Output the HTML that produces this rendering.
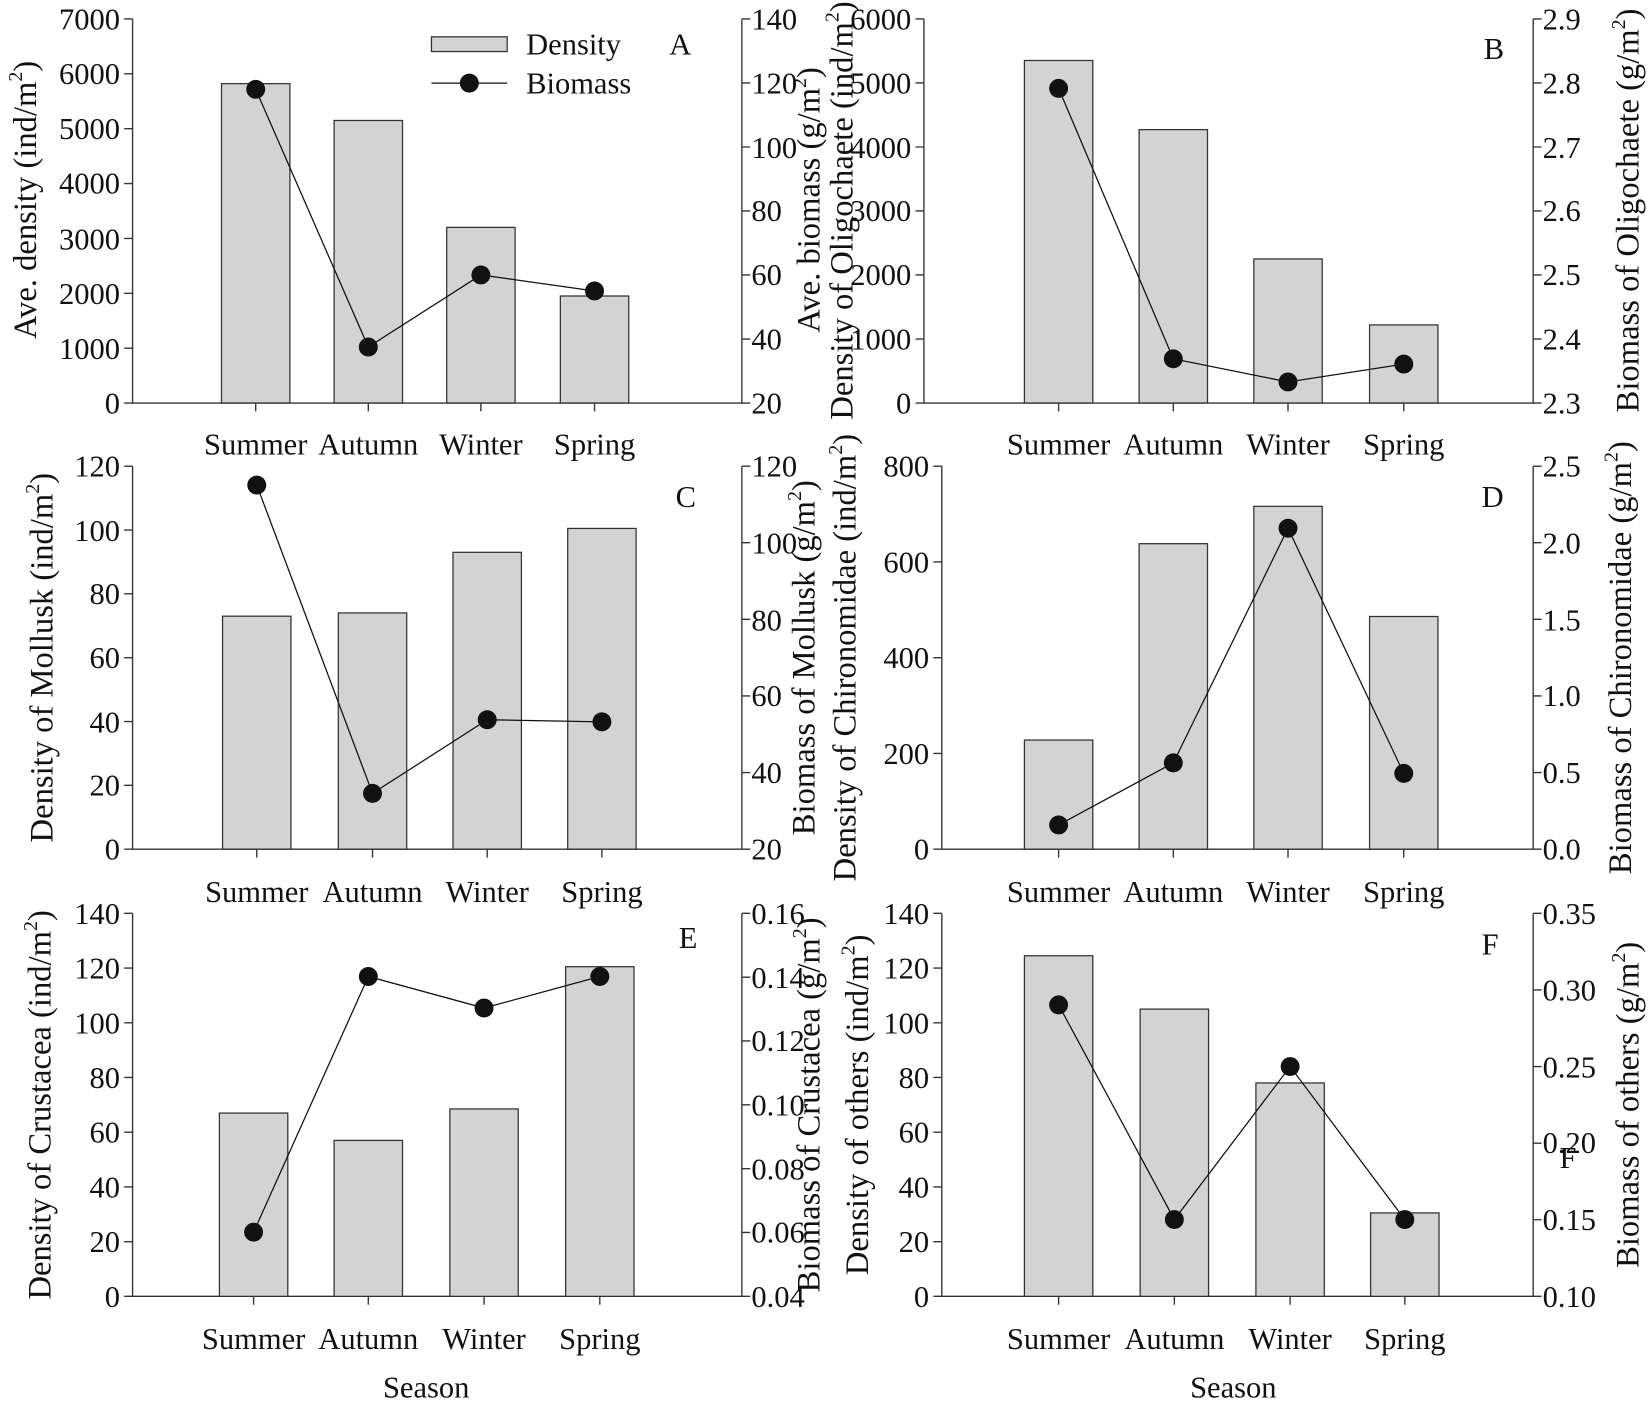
<!DOCTYPE html>
<html><head><meta charset="utf-8"><style>html,body{margin:0;padding:0;background:#fff}svg{display:block}text{font-family:"Liberation Serif",serif;fill:#111}</style></head><body>
<svg width="1650" height="1402" viewBox="0 0 1568 1332.4" preserveAspectRatio="none" xmlns="http://www.w3.org/2000/svg">
<g stroke="#333" stroke-width="1.3" fill="none">
<path d="M126 18V383H705V18M878 18V383H1457V18M126 443V807H705V443M895 443V807H1457V443M126 868V1232H705V868M895 868V1232H1457V868"/>
<path d="M118 383h8M118 330.9h8M118 278.7h8M118 226.6h8M118 174.4h8M118 122.3h8M118 70.1h8M118 18h8M705 383h8M705 322.2h8M705 261.3h8M705 200.5h8M705 139.7h8M705 78.8h8M705 18h8M243 383v8M350 383v8M457 383v8M565 383v8"/>
<path d="M870 383h8M870 322.2h8M870 261.3h8M870 200.5h8M870 139.7h8M870 78.8h8M870 18h8M1457 383h8M1457 322.2h8M1457 261.3h8M1457 200.5h8M1457 139.7h8M1457 78.8h8M1457 18h8M1006 383v8M1115 383v8M1224 383v8M1334 383v8"/>
<path d="M118 807h8M118 746.3h8M118 685.7h8M118 625h8M118 564.3h8M118 503.7h8M118 443h8M705 807h8M705 734.2h8M705 661.4h8M705 588.6h8M705 515.8h8M705 443h8M244 807v8M354 807v8M463 807v8M572 807v8"/>
<path d="M887 807h8M887 716h8M887 625h8M887 534h8M887 443h8M1457 807h8M1457 734.2h8M1457 661.4h8M1457 588.6h8M1457 515.8h8M1457 443h8M1006 807v8M1115 807v8M1224 807v8M1334 807v8"/>
<path d="M118 1232h8M118 1180h8M118 1128h8M118 1076h8M118 1024h8M118 972h8M118 920h8M118 868h8M705 1232h8M705 1171.3h8M705 1110.7h8M705 1050h8M705 989.3h8M705 928.7h8M705 868h8M241 1232v8M350 1232v8M460 1232v8M570 1232v8"/>
<path d="M887 1232h8M887 1180h8M887 1128h8M887 1076h8M887 1024h8M887 972h8M887 920h8M887 868h8M1457 1232h8M1457 1159.2h8M1457 1086.4h8M1457 1013.6h8M1457 940.8h8M1457 868h8M1006 1232v8M1116 1232v8M1226 1232v8M1335 1232v8"/>
</g>
<g fill="#d3d3d3" stroke="#333" stroke-width="1.2">
<rect x="210.5" y="79.5" width="65" height="303.5"/><rect x="317.5" y="114.5" width="65" height="268.5"/><rect x="424.5" y="216.1" width="65" height="166.9"/><rect x="532.5" y="281.3" width="65" height="101.7"/>
<rect x="973.5" y="57.5" width="65" height="325.5"/><rect x="1082.5" y="123.2" width="65" height="259.8"/><rect x="1191.5" y="246.1" width="65" height="136.9"/><rect x="1301.5" y="308.8" width="65" height="74.2"/>
<rect x="211.5" y="585.6" width="65" height="221.4"/><rect x="321.5" y="582.5" width="65" height="224.5"/><rect x="430.5" y="524.9" width="65" height="282.1"/><rect x="539.5" y="502.2" width="65" height="304.8"/>
<rect x="973.5" y="703.3" width="65" height="103.7"/><rect x="1082.5" y="516.7" width="65" height="290.3"/><rect x="1191.5" y="481.2" width="65" height="325.8"/><rect x="1301.5" y="585.9" width="65" height="221.1"/>
<rect x="208.5" y="1057.8" width="65" height="174.2"/><rect x="317.5" y="1083.8" width="65" height="148.2"/><rect x="427.5" y="1053.9" width="65" height="178.1"/><rect x="537.5" y="918.7" width="65" height="313.3"/>
<rect x="973.5" y="908.3" width="65" height="323.7"/><rect x="1083.5" y="959" width="65" height="273"/><rect x="1193.5" y="1029.2" width="65" height="202.8"/><rect x="1302.5" y="1152.7" width="65" height="79.3"/>
<rect x="410" y="35" width="72" height="14"/>
</g>
<g stroke="#111" stroke-width="1.2" fill="none">
<polyline points="243,84.9 350,329.8 457,261.3 565,276.5"/>
<polyline points="1006,84 1115,341 1224,363 1334,346"/>
<polyline points="244,461 354,754 463,684 572,686"/>
<polyline points="1006,784 1115,725 1224,502 1334,735"/>
<polyline points="241,1171 350,928 460,958 570,928"/>
<polyline points="1006,955 1116,1159 1226,1013.6 1335,1159"/>
<path d="M410 79H482"/>
</g>
<g fill="#111">
<circle cx="243" cy="84.9" r="9"/><circle cx="350" cy="329.8" r="9"/><circle cx="457" cy="261.3" r="9"/><circle cx="565" cy="276.5" r="9"/>
<circle cx="1006" cy="84" r="9"/><circle cx="1115" cy="341" r="9"/><circle cx="1224" cy="363" r="9"/><circle cx="1334" cy="346" r="9"/>
<circle cx="244" cy="461" r="9"/><circle cx="354" cy="754" r="9"/><circle cx="463" cy="684" r="9"/><circle cx="572" cy="686" r="9"/>
<circle cx="1006" cy="784" r="9"/><circle cx="1115" cy="725" r="9"/><circle cx="1224" cy="502" r="9"/><circle cx="1334" cy="735" r="9"/>
<circle cx="241" cy="1171" r="9"/><circle cx="350" cy="928" r="9"/><circle cx="460" cy="958" r="9"/><circle cx="570" cy="928" r="9"/>
<circle cx="1006" cy="955" r="9"/><circle cx="1116" cy="1159" r="9"/><circle cx="1226" cy="1013.6" r="9"/><circle cx="1335" cy="1159" r="9"/>
<circle cx="446" cy="79" r="9"/>
</g>
<g font-size="29">
<g text-anchor="end"><text x="114" y="393">0</text><text x="114" y="341">1000</text><text x="114" y="289">2000</text><text x="114" y="237">3000</text><text x="114" y="184">4000</text><text x="114" y="132">5000</text><text x="114" y="80">6000</text><text x="114" y="28">7000</text></g>
<g><text x="714" y="393">20</text><text x="714" y="332">40</text><text x="714" y="271">60</text><text x="714" y="210">80</text><text x="714" y="150">100</text><text x="714" y="89">120</text><text x="714" y="28">140</text></g>
<text x="500" y="52">Density</text><text x="500" y="89">Biomass</text><text x="636" y="52">A</text>
<g text-anchor="middle"><text x="243" y="432">Summer</text><text x="350" y="432">Autumn</text><text x="457" y="432">Winter</text><text x="565" y="432">Spring</text></g>
<g font-size="31">
<text transform="translate(34,190) rotate(-90)" text-anchor="middle">Ave. density (ind/m<tspan font-size="19" dy="-13">2</tspan><tspan dy="13">)</tspan></text>
<text transform="translate(779,190) rotate(-90)" text-anchor="middle">Ave. biomass (g/m<tspan font-size="19" dy="-13">2</tspan><tspan dy="13">)</tspan></text>
<text transform="translate(810,200) rotate(-90)" text-anchor="middle">Density of Oligochaete (ind/m<tspan font-size="19" dy="-13">2</tspan><tspan dy="13">)</tspan></text>
<text transform="translate(1557,200) rotate(-90)" text-anchor="middle">Biomass of Oligochaete (g/m<tspan font-size="19" dy="-13">2</tspan><tspan dy="13">)</tspan></text>
<text transform="translate(50,625) rotate(-90)" text-anchor="middle">Density of Mollusk (ind/m<tspan font-size="19" dy="-13">2</tspan><tspan dy="13">)</tspan></text>
<text transform="translate(774,625) rotate(-90)" text-anchor="middle">Biomass of Mollusk (g/m<tspan font-size="19" dy="-13">2</tspan><tspan dy="13">)</tspan></text>
<text transform="translate(813,625) rotate(-90)" text-anchor="middle">Density of Chironomidae (ind/m<tspan font-size="19" dy="-13">2</tspan><tspan dy="13">)</tspan></text>
<text transform="translate(1550,625) rotate(-90)" text-anchor="middle">Biomass of Chironomidae (g/m<tspan font-size="19" dy="-13">2</tspan><tspan dy="13">)</tspan></text>
<text transform="translate(48,1050) rotate(-90)" text-anchor="middle">Density of Crustacea (ind/m<tspan font-size="19" dy="-13">2</tspan><tspan dy="13">)</tspan></text>
<text transform="translate(779,1050) rotate(-90)" text-anchor="middle">Biomass of Crustacea (g/m<tspan font-size="19" dy="-13">2</tspan><tspan dy="13">)</tspan></text>
<text transform="translate(825,1050) rotate(-90)" text-anchor="middle">Density of others (ind/m<tspan font-size="19" dy="-13">2</tspan><tspan dy="13">)</tspan></text>
<text transform="translate(1557,1050) rotate(-90)" text-anchor="middle">Biomass of others (g/m<tspan font-size="19" dy="-13">2</tspan><tspan dy="13">)</tspan></text>
</g>
<g text-anchor="end"><text x="866" y="393">0</text><text x="866" y="332">1000</text><text x="866" y="271">2000</text><text x="866" y="210">3000</text><text x="866" y="150">4000</text><text x="866" y="89">5000</text><text x="866" y="28">6000</text></g>
<g><text x="1466" y="393">2.3</text><text x="1466" y="332">2.4</text><text x="1466" y="271">2.5</text><text x="1466" y="210">2.6</text><text x="1466" y="150">2.7</text><text x="1466" y="89">2.8</text><text x="1466" y="28">2.9</text></g>
<text x="1410" y="56">B</text>
<g text-anchor="middle"><text x="1006" y="432">Summer</text><text x="1115" y="432">Autumn</text><text x="1224" y="432">Winter</text><text x="1334" y="432">Spring</text></g>
<g text-anchor="end"><text x="114" y="817">0</text><text x="114" y="756">20</text><text x="114" y="696">40</text><text x="114" y="635">60</text><text x="114" y="574">80</text><text x="114" y="514">100</text><text x="114" y="453">120</text></g>
<g><text x="714" y="817">20</text><text x="714" y="744">40</text><text x="714" y="671">60</text><text x="714" y="599">80</text><text x="714" y="526">100</text><text x="714" y="453">120</text></g>
<text x="642" y="482">C</text>
<g text-anchor="middle"><text x="244" y="857">Summer</text><text x="354" y="857">Autumn</text><text x="463" y="857">Winter</text><text x="572" y="857">Spring</text></g>
<g text-anchor="end"><text x="883" y="817">0</text><text x="883" y="726">200</text><text x="883" y="635">400</text><text x="883" y="544">600</text><text x="883" y="453">800</text></g>
<g><text x="1466" y="817">0.0</text><text x="1466" y="744">0.5</text><text x="1466" y="671">1.0</text><text x="1466" y="599">1.5</text><text x="1466" y="526">2.0</text><text x="1466" y="453">2.5</text></g>
<text x="1408" y="482">D</text>
<g text-anchor="middle"><text x="1006" y="857">Summer</text><text x="1115" y="857">Autumn</text><text x="1224" y="857">Winter</text><text x="1334" y="857">Spring</text></g>
<g text-anchor="end"><text x="114" y="1242">0</text><text x="114" y="1190">20</text><text x="114" y="1138">40</text><text x="114" y="1086">60</text><text x="114" y="1034">80</text><text x="114" y="982">100</text><text x="114" y="930">120</text><text x="114" y="878">140</text></g>
<g><text x="714" y="1242">0.04</text><text x="714" y="1181">0.06</text><text x="714" y="1121">0.08</text><text x="714" y="1060">0.10</text><text x="714" y="999">0.12</text><text x="714" y="939">0.14</text><text x="714" y="878">0.16</text></g>
<text x="645" y="901">E</text>
<g text-anchor="middle"><text x="241" y="1282">Summer</text><text x="350" y="1282">Autumn</text><text x="460" y="1282">Winter</text><text x="570" y="1282">Spring</text></g>
<text x="405" y="1328" text-anchor="middle">Season</text>
<g text-anchor="end"><text x="883" y="1242">0</text><text x="883" y="1190">20</text><text x="883" y="1138">40</text><text x="883" y="1086">60</text><text x="883" y="1034">80</text><text x="883" y="982">100</text><text x="883" y="930">120</text><text x="883" y="878">140</text></g>
<g><text x="1466" y="1242">0.10</text><text x="1466" y="1169">0.15</text><text x="1466" y="1096">0.20</text><text x="1466" y="1024">0.25</text><text x="1466" y="951">0.30</text><text x="1466" y="878">0.35</text></g>
<text x="1408" y="907">F</text><text x="1482" y="1110">F</text>
<g text-anchor="middle"><text x="1006" y="1282">Summer</text><text x="1116" y="1282">Autumn</text><text x="1226" y="1282">Winter</text><text x="1335" y="1282">Spring</text></g>
<text x="1172" y="1328" text-anchor="middle">Season</text>
</g>
</svg>
</body></html>
